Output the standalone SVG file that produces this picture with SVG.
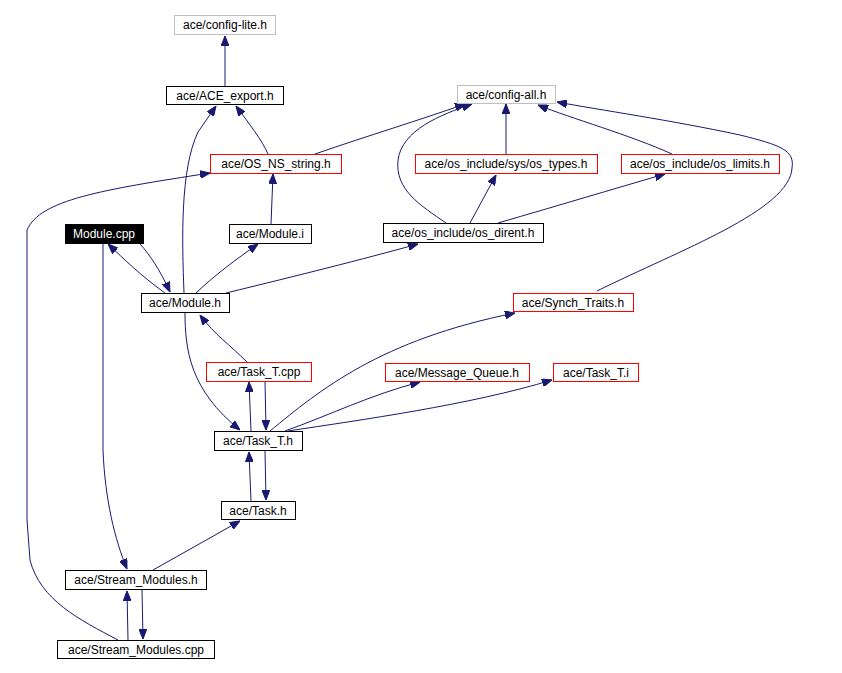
<svg xmlns="http://www.w3.org/2000/svg" width="842" height="673" viewBox="0 0 842 673">
<style>
.n rect{fill:#fff;stroke:#000;stroke-width:1}
.n.r rect{stroke:#f00}
.n.g rect{stroke:#bfbfbf}
.n.b rect{fill:#000}
.n text{font-family:"Liberation Sans",Arial,sans-serif;font-size:12px;text-anchor:middle;fill:#000}
.n.b text{fill:#fff}
#edges path{fill:none;stroke:#191970;stroke-width:1;marker-end:url(#a)}
</style>
<defs><marker id="a" viewBox="0 0 10 8" refX="10" refY="4" markerWidth="10" markerHeight="8" markerUnits="userSpaceOnUse" orient="auto"><path d="M0,0 L10,4 L0,8 z" fill="#191970" stroke="#191970"/></marker></defs>
<rect width="842" height="673" fill="#fff"/>
<g id="edges">
<path d="M225,86 L225,36"/>
<path d="M184,293 C182,240 180,170 198,132 L216,106"/>
<path d="M268,154 C262,140 250,125 236,106"/>
<path d="M315,154 C370,135 420,120 465,104"/>
<path d="M118,640 C80,620 40,600 30,560 L27,520 L27,230 C40,200 100,190 210,173"/>
<path d="M140,244 C150,255 160,270 170,292"/>
<path d="M165,293 C140,275 125,260 108,244"/>
<path d="M196,293 C215,275 235,260 258,244"/>
<path d="M271,224 L273,174"/>
<path d="M226,293 C300,275 360,260 418,244"/>
<path d="M446,223 C420,205 395,190 398,160 C402,130 440,115 472,104"/>
<path d="M506,154 L506,104"/>
<path d="M470,223 L496,175"/>
<path d="M498,223 C560,205 610,190 665,174"/>
<path d="M672,154 C630,135 570,118 538,105"/>
<path d="M597,291 C680,250 790,210 792,168 C795,150 780,145 740,135 C670,120 600,110 557,102"/>
<path d="M270,431 C320,390 380,340 515,313"/>
<path d="M185,312 C185,350 190,390 240,430"/>
<path d="M247,362 C230,345 215,335 200,315"/>
<path d="M251,431 L249,382"/>
<path d="M265,381 L266,430"/>
<path d="M285,431 C330,415 370,395 420,382"/>
<path d="M288,431 C360,420 470,405 552,380"/>
<path d="M251,501 L249,452"/>
<path d="M265,451 L266,500"/>
<path d="M153,570 L240,521"/>
<path d="M103,244 L103,450 C105,500 115,540 127,569"/>
<path d="M128,640 L127,591"/>
<path d="M142,590 L143,639"/>
</g>
<g id="config-lite" class="n g"><rect x="174.5" y="15.5" width="101" height="19"/><text x="225" y="29">ace/config-lite.h</text></g>
<g id="ace-export" class="n"><rect x="166.5" y="86.5" width="117" height="18"/><text x="225" y="100">ace/ACE_export.h</text></g>
<g id="os-ns-string" class="n r"><rect x="210.5" y="154.5" width="131" height="19"/><text x="276" y="168">ace/OS_NS_string.h</text></g>
<g id="module-cpp" class="n b"><rect x="65.5" y="224.5" width="78" height="19"/><text x="104" y="238">Module.cpp</text></g>
<g id="module-i" class="n"><rect x="229.5" y="224.5" width="82" height="19"/><text x="270" y="238">ace/Module.i</text></g>
<g id="os-dirent" class="n"><rect x="383.5" y="223.5" width="160" height="19"/><text x="463" y="237">ace/os_include/os_dirent.h</text></g>
<g id="module-h" class="n"><rect x="141.5" y="293.5" width="88" height="19"/><text x="185" y="307">ace/Module.h</text></g>
<g id="config-all" class="n g"><rect x="457.5" y="85.5" width="98" height="18"/><text x="506" y="99">ace/config-all.h</text></g>
<g id="os-types" class="n r"><rect x="415.5" y="154.5" width="182" height="19"/><text x="506" y="168">ace/os_include/sys/os_types.h</text></g>
<g id="os-limits" class="n r"><rect x="621.5" y="154.5" width="158" height="19"/><text x="700" y="168">ace/os_include/os_limits.h</text></g>
<g id="synch-traits" class="n r"><rect x="513.5" y="293.5" width="120" height="18"/><text x="573" y="307">ace/Synch_Traits.h</text></g>
<g id="message-queue" class="n r"><rect x="385.5" y="363.5" width="144" height="18"/><text x="457" y="377">ace/Message_Queue.h</text></g>
<g id="task-t-i" class="n r"><rect x="553.5" y="363.5" width="85" height="18"/><text x="596" y="377">ace/Task_T.i</text></g>
<g id="task-t-cpp" class="n r"><rect x="206.5" y="362.5" width="105" height="19"/><text x="259" y="376">ace/Task_T.cpp</text></g>
<g id="task-t-h" class="n"><rect x="214.5" y="431.5" width="88" height="19"/><text x="258" y="445">ace/Task_T.h</text></g>
<g id="task-h" class="n"><rect x="221.5" y="501.5" width="74" height="18"/><text x="258" y="515">ace/Task.h</text></g>
<g id="stream-modules-h" class="n"><rect x="65.5" y="570.5" width="141" height="19"/><text x="136" y="584">ace/Stream_Modules.h</text></g>
<g id="stream-modules-cpp" class="n"><rect x="57.5" y="640.5" width="157" height="18"/><text x="136" y="654">ace/Stream_Modules.cpp</text></g>
</svg>
